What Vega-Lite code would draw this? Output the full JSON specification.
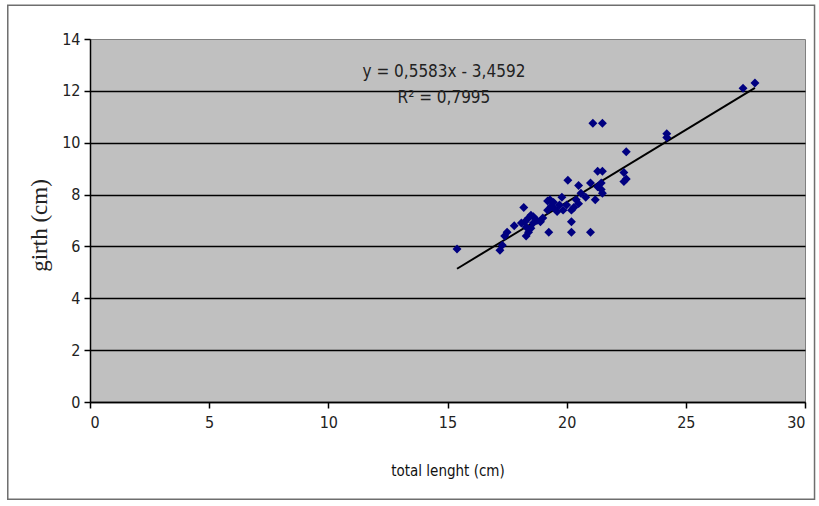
{
  "$schema": "https://vega.github.io/schema/vega-lite/v6.json",
  "autosize": {"type": "none"},
  "padding": {"left": 90, "top": 39, "right": 14, "bottom": 104},
  "width": 715,
  "height": 363,
  "background": "white",
  "config": {
    "view": {"fill": "#c0c0c0", "stroke": "#808080", "strokeWidth": 1},
    "font": "DejaVu Sans Condensed, Liberation Sans"
  },
  "datasets": {
    "fish": [
      {"length": 15.4, "girth": 5.9},
      {"length": 17.2, "girth": 5.85},
      {"length": 17.3, "girth": 6.05},
      {"length": 17.4, "girth": 6.4},
      {"length": 17.5, "girth": 6.55},
      {"length": 17.8, "girth": 6.8},
      {"length": 18.1, "girth": 6.9},
      {"length": 18.2, "girth": 7.5},
      {"length": 18.25, "girth": 6.95},
      {"length": 18.3, "girth": 6.4},
      {"length": 18.3, "girth": 6.75},
      {"length": 18.4, "girth": 6.55},
      {"length": 18.4, "girth": 7.1},
      {"length": 18.5, "girth": 7.2},
      {"length": 18.5, "girth": 6.7},
      {"length": 18.6, "girth": 6.9},
      {"length": 18.6, "girth": 7.15},
      {"length": 18.75, "girth": 7.0},
      {"length": 18.9, "girth": 6.95},
      {"length": 19.0, "girth": 7.1},
      {"length": 19.2, "girth": 7.75},
      {"length": 19.2, "girth": 7.4},
      {"length": 19.25, "girth": 6.55},
      {"length": 19.3, "girth": 7.8},
      {"length": 19.35, "girth": 7.55},
      {"length": 19.45, "girth": 7.7},
      {"length": 19.5, "girth": 7.45},
      {"length": 19.6, "girth": 7.35},
      {"length": 19.7, "girth": 7.6},
      {"length": 19.8, "girth": 7.9},
      {"length": 19.85, "girth": 7.4},
      {"length": 20.0, "girth": 7.6},
      {"length": 20.05, "girth": 8.55},
      {"length": 20.2, "girth": 7.4},
      {"length": 20.2, "girth": 6.95},
      {"length": 20.2, "girth": 6.55},
      {"length": 20.3, "girth": 7.5},
      {"length": 20.4, "girth": 7.8},
      {"length": 20.5, "girth": 8.35},
      {"length": 20.5, "girth": 7.65},
      {"length": 20.6, "girth": 8.05},
      {"length": 20.8, "girth": 7.9},
      {"length": 21.0, "girth": 8.45},
      {"length": 21.0, "girth": 6.55},
      {"length": 21.2, "girth": 7.8},
      {"length": 21.1, "girth": 10.75},
      {"length": 21.5, "girth": 10.75},
      {"length": 21.3, "girth": 8.9},
      {"length": 21.3, "girth": 8.3},
      {"length": 21.5, "girth": 8.9},
      {"length": 21.45, "girth": 8.45},
      {"length": 21.45, "girth": 8.2},
      {"length": 21.5, "girth": 8.05},
      {"length": 22.4, "girth": 8.85},
      {"length": 22.5, "girth": 8.6},
      {"length": 22.4, "girth": 8.5},
      {"length": 22.5, "girth": 9.65},
      {"length": 24.2, "girth": 10.35},
      {"length": 24.2, "girth": 10.2},
      {"length": 27.4, "girth": 12.1},
      {"length": 27.9, "girth": 12.3}
    ],
    "trend": [
      {"length": 15.4, "girth": 5.139},
      {"length": 27.9, "girth": 12.117}
    ],
    "one": [{}]
  },
  "layer": [
    {
      "data": {"name": "one"},
      "mark": {"type": "rect", "filled": false, "fill": "transparent", "stroke": "#6e6e6e", "strokeWidth": 1.5, "clip": false},
      "encoding": {
        "x": {"datum": -3.45, "type": "quantitative"},
        "x2": {"datum": 30.4},
        "y": {"datum": 15.3, "type": "quantitative"},
        "y2": {"datum": -3.75}
      }
    },
    {
      "data": {"name": "trend"},
      "mark": {"type": "line", "color": "black", "strokeWidth": 2},
      "encoding": {
        "x": {"field": "length", "type": "quantitative"},
        "y": {"field": "girth", "type": "quantitative"}
      }
    },
    {
      "data": {"name": "fish"},
      "mark": {"type": "point", "shape": "diamond", "filled": true, "color": "#000080", "size": 80, "opacity": 1},
      "encoding": {
        "x": {
          "field": "length", "type": "quantitative",
          "scale": {"domain": [0, 30], "nice": false, "zero": true},
          "axis": {
            "title": "total lenght (cm)",
            "values": [0, 5, 10, 15, 20, 25, 30],
            "grid": false,
            "domainColor": "black", "domainWidth": 1.5,
            "tickColor": "black", "tickSize": 6, "tickWidth": 1.5,
            "labelFontSize": 16, "labelColor": "#222", "labelPadding": 6,
            "labelFont": "DejaVu Sans Condensed, Liberation Sans",
            "titleFont": "DejaVu Sans Condensed, Liberation Sans",
            "titleFontSize": 15, "titleFontWeight": "normal", "titleColor": "#111",
            "titleY": 68, "titleBaseline": "middle"
          }
        },
        "y": {
          "field": "girth", "type": "quantitative",
          "scale": {"domain": [0, 14], "nice": false},
          "axis": {
            "title": "girth (cm)",
            "values": [0, 2, 4, 6, 8, 10, 12, 14],
            "grid": true,
            "gridColor": {"condition": {"test": "datum.value == 14", "value": "transparent"}, "value": "black"},
            "gridWidth": 1.5, "gridOpacity": 1,
            "domainColor": "black", "domainWidth": 1.5,
            "tickColor": "black", "tickSize": 6, "tickWidth": 1.5,
            "labelFontSize": 16, "labelColor": "#222", "labelPadding": 4,
            "labelFont": "DejaVu Sans Condensed, Liberation Sans",
            "titleFont": "Liberation Serif, Times New Roman",
            "titleFontSize": 23, "titleFontWeight": "normal", "titleColor": "#222",
            "titleX": -51, "titleY": 186, "titleAngle": -90,
            "titleAlign": "center", "titleBaseline": "middle"
          }
        }
      }
    },
    {
      "data": {"name": "one"},
      "mark": {"type": "text", "fontSize": 17, "color": "#222", "font": "DejaVu Sans Condensed, Liberation Sans", "align": "center", "baseline": "middle"},
      "encoding": {
        "x": {"datum": 14.85, "type": "quantitative"},
        "y": {"datum": 12.73, "type": "quantitative"},
        "text": {"value": "y = 0,5583x - 3,4592"}
      }
    },
    {
      "data": {"name": "one"},
      "mark": {"type": "text", "fontSize": 17, "color": "#222", "font": "DejaVu Sans Condensed, Liberation Sans", "align": "center", "baseline": "middle"},
      "encoding": {
        "x": {"datum": 14.85, "type": "quantitative"},
        "y": {"datum": 11.72, "type": "quantitative"},
        "text": {"value": "R² = 0,7995"}
      }
    }
  ]
}
